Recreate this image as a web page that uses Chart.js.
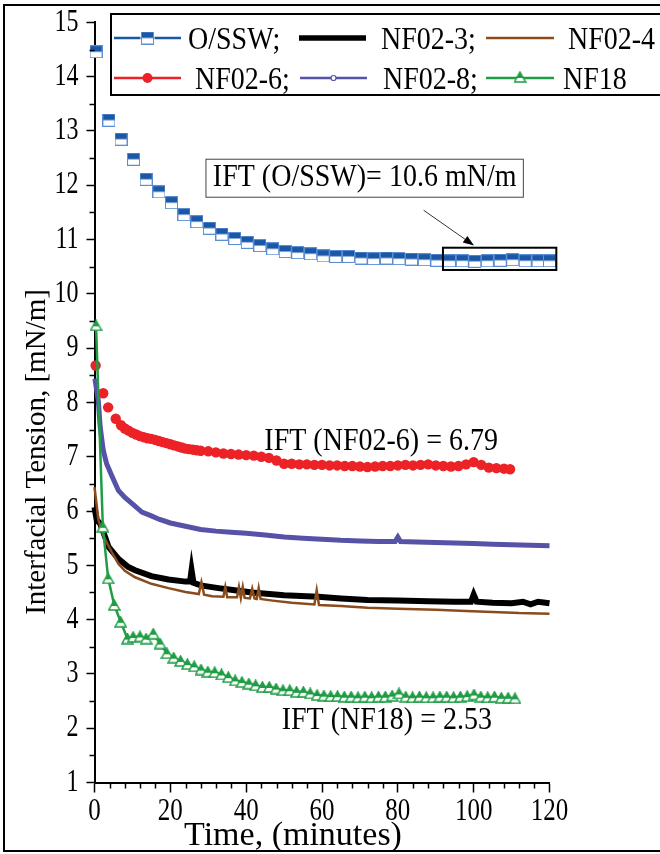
<!DOCTYPE html>
<html>
<head>
<meta charset="utf-8">
<script src="https://cdn.jsdelivr.net/npm/chart.js@4.4.0/dist/chart.umd.min.js"></script>
<style>
  html, body { margin: 0; padding: 0; background: #fff; }
</style>
</head>
<body>
<canvas id="iftChart" width="660" height="854"></canvas>
<script>
// Axis ticks
const xTickValues = [0, 20, 40, 60, 80, 100, 120];
const yTickValues = [1, 2, 3, 4, 5, 6, 7, 8, 9, 10, 11, 12, 13, 14, 15];

// Series names (legend order)
const seriesNames = ['O/SSW', 'NF02-3', 'NF02-4', 'NF02-6', 'NF02-8', 'NF18'];

// O/SSW
const osswTime = [0.4, 3.8, 7.0, 10.3, 13.6, 17.0, 20.3, 23.6, 27.0, 30.3, 33.6, 37.0, 40.3, 43.6, 47.0, 50.3, 53.6, 57.0, 60.3,
    63.6, 67.0, 70.3, 73.6, 77.0, 80.3, 83.6, 87.0, 90.3, 93.6, 97.0, 100.3, 103.6, 107.0, 110.3, 113.6, 117.0, 120.0];
const osswIFT = [14.46, 13.20, 12.85, 12.48, 12.11, 11.88, 11.68, 11.46, 11.33, 11.21, 11.10, 11.02, 10.95, 10.89, 10.83, 10.78,
    10.76, 10.74, 10.70, 10.69, 10.69, 10.66, 10.65, 10.66, 10.65, 10.64, 10.63, 10.62, 10.61, 10.61, 10.60, 10.61, 10.62,
    10.63, 10.61, 10.61, 10.61];

// NF02-3
const nf023Time = [0, 0.6, 1.5, 2.8, 3.7, 6.3, 8.9, 10.7, 15, 19.5, 24, 25.2, 25.6, 26.1, 28, 32.7, 36, 41.5, 50, 59, 65, 72,
    80, 88, 95, 99.3, 100, 100.8, 105, 110, 113, 115, 117, 120];
const nf023IFT = [6.07, 5.83, 5.77, 5.52, 5.34, 5.12, 4.97, 4.91, 4.80, 4.74, 4.70, 4.70, 4.91, 4.68, 4.63, 4.58, 4.55, 4.50,
    4.45, 4.42, 4.39, 4.36, 4.35, 4.34, 4.33, 4.33, 4.46, 4.33, 4.31, 4.30, 4.33, 4.28, 4.33, 4.30];

// NF02-4
const nf024Time = [0, 0.5, 1, 2, 3, 4.5, 6.3, 8, 10.7, 15, 19.5, 24, 27.5, 28.2, 28.9, 31, 34, 34.5, 35, 37.6, 38.1, 38.6,
    39.1, 39.6, 41, 41.6, 42.2, 42.8, 43.3, 43.8, 47, 52, 58, 58.6, 59.2, 65, 72, 80, 90, 98, 105, 112, 120];
const nf024IFT = [6.44, 6.15, 5.85, 5.60, 5.45, 5.25, 5.03, 4.90, 4.78, 4.66, 4.58, 4.51, 4.47, 4.69, 4.46, 4.43, 4.42, 4.60,
    4.41, 4.41, 4.60, 4.40, 4.60, 4.40, 4.39, 4.57, 4.39, 4.38, 4.58, 4.38, 4.35, 4.31, 4.28, 4.54, 4.27, 4.25, 4.22, 4.20,
    4.18, 4.16, 4.14, 4.12, 4.11];

// NF02-6
const nf026Time = [0.3, 2.3, 3.6, 5.6, 7, 8, 9, 10, 11, 12, 13, 14, 15, 16, 17, 18, 19, 20, 21, 22, 23, 24, 25, 26, 27, 28,
    30, 32, 34, 36, 38, 40, 42, 44, 46, 48, 50, 52, 54, 56, 58, 60, 62, 64, 66, 68, 70, 72, 74, 76, 78, 80, 82, 84, 86, 88,
    90, 92, 94, 96, 98, 100, 102, 104, 106, 108, 109.6];
const nf026IFT = [8.68, 8.17, 7.91, 7.70, 7.58, 7.52, 7.48, 7.44, 7.41, 7.38, 7.36, 7.34, 7.33, 7.31, 7.29, 7.27, 7.25, 7.23,
    7.21, 7.19, 7.17, 7.15, 7.14, 7.13, 7.12, 7.11, 7.10, 7.08, 7.06, 7.05, 7.04, 7.03, 7.02, 7.00, 6.98, 6.93, 6.87, 6.87,
    6.86, 6.86, 6.85, 6.85, 6.84, 6.84, 6.83, 6.83, 6.82, 6.81, 6.82, 6.83, 6.83, 6.84, 6.85, 6.84, 6.85, 6.86, 6.84, 6.83,
    6.82, 6.83, 6.86, 6.90, 6.85, 6.80, 6.79, 6.78, 6.77];

// NF02-8
const nf028Time = [0.1, 1, 1.5, 2.3, 3.2, 4.5, 6.3, 8, 10, 12.5, 15, 17, 20, 24, 28, 32, 36, 40, 45, 50, 55, 60, 65, 70, 75,
    79.3, 80, 80.7, 85, 90, 95, 100, 105, 110, 115, 120];
const nf028IFT = [8.44, 8.04, 7.55, 7.12, 6.87, 6.66, 6.38, 6.25, 6.13, 5.98, 5.91, 5.85, 5.78, 5.72, 5.66, 5.63, 5.61, 5.59,
    5.56, 5.52, 5.50, 5.48, 5.46, 5.45, 5.44, 5.44, 5.52, 5.44, 5.43, 5.42, 5.41, 5.40, 5.39, 5.38, 5.37, 5.36];

// NF18
const nf18Time = [0.4, 2.2, 3.6, 5.2, 6.9, 8.7, 10.2, 12.0, 13.6, 15.5, 17.3, 19.1, 20.9, 22.7, 24.5, 26.3, 28.1, 29.9, 31.7,
    33.5, 35.3, 37.1, 38.9, 40.7, 42.5, 44.3, 46.1, 47.9, 49.7, 51.5, 53.3, 55.1, 56.9, 58.7, 60.5, 62.3, 64.1, 65.9, 67.7,
    69.5, 71.3, 73.1, 74.9, 76.7, 78.5, 80.3, 82.1, 83.9, 85.7, 87.5, 89.3, 91.1, 92.9, 94.7, 96.5, 98.3, 100.1, 101.9,
    103.7, 105.5, 107.3, 109.1, 110.9];
const nf18IFT = [9.42, 5.71, 4.76, 4.27, 3.96, 3.65, 3.68, 3.69, 3.65, 3.74, 3.56, 3.38, 3.30, 3.24, 3.18, 3.14, 3.08, 3.04,
    3.03, 2.99, 2.94, 2.88, 2.85, 2.82, 2.79, 2.76, 2.76, 2.73, 2.70, 2.70, 2.67, 2.67, 2.64, 2.61, 2.60, 2.59, 2.59, 2.58,
    2.58, 2.57, 2.58, 2.57, 2.58, 2.58, 2.60, 2.64, 2.58, 2.57, 2.58, 2.57, 2.57, 2.58, 2.58, 2.57, 2.58, 2.59, 2.62, 2.58,
    2.57, 2.58, 2.56, 2.56, 2.55];

const serif = "'Liberation Serif', 'Times New Roman', serif";
const blue = '#1b57a7';
const red = '#ec2227';
const purple = '#5652a8';
const brown = '#8a4b1d';
const green = '#1f9d45';

// Half-filled markers, as in the original plot
function makeSquare() {
    const c = document.createElement('canvas');
    c.width = 13; c.height = 13;
    const g = c.getContext('2d');
    g.fillStyle = '#fff';
    g.fillRect(0, 0, 13, 13);
    g.fillStyle = blue;
    g.fillRect(0, 0, 13, 6.5);
    g.strokeStyle = '#5b8ed3';
    g.lineWidth = 1;
    g.strokeRect(0.5, 0.5, 12, 12);
    return c;
}

function makeTriangle() {
    const c = document.createElement('canvas');
    c.width = 13; c.height = 12;
    const g = c.getContext('2d');
    g.beginPath();
    g.moveTo(6.5, 1); g.lineTo(12, 11); g.lineTo(1, 11); g.closePath();
    g.fillStyle = '#fff';
    g.fill();
    g.save();
    g.clip();
    g.fillStyle = green;
    g.fillRect(0, 0, 13, 7);
    g.restore();
    g.strokeStyle = green;
    g.lineWidth = 1.5;
    g.stroke();
    return c;
}

const squareMark = makeSquare();
const triangleMark = makeTriangle();

function points(times, values) {
    return times.map((t, i) => ({ x: t, y: values[i] }));
}

// Draw text stretched vertically (the figure's fonts are tall)
function tallText(ctx, text, x, y, sy) {
    ctx.save();
    ctx.translate(x, y);
    ctx.scale(1, sy);
    ctx.fillText(text, 0, 0);
    ctx.restore();
}

// Tick labels come out taller than normal type in the reference
const tallTicks = {
    id: 'tallTicks',
    beforeDraw(chart) {
        const ctx = chart.ctx;
        const fill = ctx.fillText;
        ctx._plainFill = fill;
        ctx.fillText = function (t, x, y, w) {
            const m = this.getTransform();
            const p = m.transformPoint(new DOMPoint(x, y));
            this.setTransform(new DOMMatrix().translate(p.x, p.y).scale(1, 1.3).translate(-p.x, -p.y).multiply(m));
            if (w === undefined) fill.call(this, t, x, y); else fill.call(this, t, x, y, w);
            this.setTransform(m);
        };
    },
    beforeDatasetsDraw(chart) {
        if (chart.ctx._plainFill) {
            chart.ctx.fillText = chart.ctx._plainFill;
            delete chart.ctx._plainFill;
        }
    }
};

// Legend, annotations, axis titles, minor ticks, frame
const figureExtras = {
    id: 'figureExtras',
    afterDraw(chart) {
        const ctx = chart.ctx;
        const xs = chart.scales.x;
        const ys = chart.scales.y;
        const area = chart.chartArea;
        ctx.save();

        // minor ticks
        ctx.strokeStyle = '#000';
        ctx.lineWidth = 1.5;
        ctx.beginPath();
        for (let t = 4; t < 120; t += 4) {
            if (t % 20 === 0) continue;
            const px = Math.round(xs.getPixelForValue(t)) + 0.5;
            ctx.moveTo(px, area.bottom);
            ctx.lineTo(px, area.bottom + 6);
        }
        for (let v = 1.5; v < 15; v += 1) {
            const py = Math.round(ys.getPixelForValue(v)) + 0.5;
            ctx.moveTo(area.left, py);
            ctx.lineTo(area.left - 5, py);
        }
        ctx.stroke();

        // axis titles
        ctx.fillStyle = '#000';
        ctx.textAlign = 'center';
        ctx.textBaseline = 'middle';
        ctx.font = '34px ' + serif;
        ctx.fillText('Time, (minutes)', 293, 836);
        ctx.save();
        ctx.translate(37, 452);
        ctx.rotate(-Math.PI / 2);
        ctx.font = '29px ' + serif;
        ctx.fillText('Interfacial Tension, [mN/m]', 0, 0);
        ctx.restore();

        // annotation: O/SSW box, arrow and highlight rectangle
        const bx0 = xs.getPixelForValue(29.4), bx1 = xs.getPixelForValue(113.1);
        const by0 = ys.getPixelForValue(12.48), by1 = ys.getPixelForValue(11.78);
        ctx.fillStyle = '#fff';
        ctx.fillRect(bx0, by0, bx1 - bx0, by1 - by0);
        ctx.strokeStyle = '#444';
        ctx.lineWidth = 1;
        ctx.strokeRect(bx0, by0, bx1 - bx0, by1 - by0);
        ctx.fillStyle = '#000';
        ctx.font = '28px ' + serif;
        tallText(ctx, 'IFT (O/SSW)= 10.6 mN/m', (bx0 + bx1) / 2, (by0 + by1) / 2, 1.1);

        const ax0 = xs.getPixelForValue(86.8), ay0 = ys.getPixelForValue(11.54);
        const ax1 = xs.getPixelForValue(100.1), ay1 = ys.getPixelForValue(10.89);
        const ang = Math.atan2(ay1 - ay0, ax1 - ax0);
        ctx.strokeStyle = '#333';
        ctx.beginPath();
        ctx.moveTo(ax0, ay0);
        ctx.lineTo(ax1 - 9 * Math.cos(ang), ay1 - 9 * Math.sin(ang));
        ctx.stroke();
        ctx.fillStyle = '#000';
        ctx.beginPath();
        ctx.moveTo(ax1, ay1);
        ctx.lineTo(ax1 - 11 * Math.cos(ang) + 4 * Math.sin(ang), ay1 - 11 * Math.sin(ang) - 4 * Math.cos(ang));
        ctx.lineTo(ax1 - 11 * Math.cos(ang) - 4 * Math.sin(ang), ay1 - 11 * Math.sin(ang) + 4 * Math.cos(ang));
        ctx.closePath();
        ctx.fill();

        const rx0 = xs.getPixelForValue(91.9), rx1 = xs.getPixelForValue(121.8);
        const ry0 = ys.getPixelForValue(10.85), ry1 = ys.getPixelForValue(10.44);
        ctx.strokeStyle = '#000';
        ctx.lineWidth = 2;
        ctx.strokeRect(rx0, ry0, rx1 - rx0, ry1 - ry0);

        // value labels
        tallText(ctx, 'IFT (NF02-6) = 6.79', xs.getPixelForValue(75.6), ys.getPixelForValue(7.27), 1.1);
        tallText(ctx, 'IFT (NF18) = 2.53', xs.getPixelForValue(77.1), ys.getPixelForValue(2.13), 1.1);

        // legend
        ctx.fillStyle = '#fff';
        ctx.fillRect(111, 14, 560, 81);
        ctx.strokeStyle = '#000';
        ctx.lineWidth = 2;
        ctx.strokeRect(111, 14, 560, 81);

        const legendItems = [
            { name: seriesNames[0] + ';', color: blue, width: 2.5, x0: 114, x1: 181, y: 38, tx: 188, mark: 'square' },
            { name: seriesNames[1] + ';', color: '#000', width: 5.5, x0: 299, x1: 366, y: 38, tx: 381 },
            { name: seriesNames[2], color: brown, width: 2.5, x0: 486, x1: 554, y: 38, tx: 568 },
            { name: seriesNames[3] + ';', color: red, width: 2.5, x0: 114, x1: 181, y: 78, tx: 195, mark: 'dot' },
            { name: seriesNames[4] + ';', color: purple, width: 2.5, x0: 300, x1: 367, y: 78, tx: 383, mark: 'ring' },
            { name: seriesNames[5], color: green, width: 2.5, x0: 486, x1: 554, y: 78, tx: 563, mark: 'triangle' }
        ];
        ctx.font = '28px ' + serif;
        ctx.textAlign = 'left';
        ctx.textBaseline = 'alphabetic';
        legendItems.forEach(item => {
            ctx.strokeStyle = item.color;
            ctx.lineWidth = item.width;
            ctx.beginPath();
            ctx.moveTo(item.x0, item.y);
            ctx.lineTo(item.x1, item.y);
            ctx.stroke();
            const mx = (item.x0 + item.x1) / 2;
            if (item.mark === 'square') {
                ctx.fillStyle = '#fff';
                ctx.fillRect(mx - 7, item.y - 7, 14, 14);
                ctx.drawImage(squareMark, mx - 6.5, item.y - 6.5);
            } else if (item.mark === 'dot') {
                ctx.fillStyle = red;
                ctx.beginPath();
                ctx.arc(mx, item.y, 5, 0, Math.PI * 2);
                ctx.fill();
            } else if (item.mark === 'ring') {
                ctx.fillStyle = '#fff';
                ctx.lineWidth = 1.2;
                ctx.beginPath();
                ctx.arc(mx, item.y, 2.5, 0, Math.PI * 2);
                ctx.fill();
                ctx.stroke();
            } else if (item.mark === 'triangle') {
                ctx.drawImage(triangleMark, mx - 6.5, item.y - 7);
            }
            ctx.fillStyle = '#000';
            tallText(ctx, item.name, item.tx, item.y + 11, 1.15);
        });

        // outer frame
        ctx.strokeStyle = '#000';
        ctx.lineWidth = 2;
        ctx.beginPath();
        ctx.moveTo(661, 5);
        ctx.lineTo(4, 5);
        ctx.lineTo(4, 851);
        ctx.lineTo(661, 851);
        ctx.stroke();

        ctx.restore();
    }
};

const iftChart = new Chart(document.getElementById('iftChart'), {
    type: 'line',
    data: {
        datasets: [
            {
                label: seriesNames[5],
                data: points(nf18Time, nf18IFT),
                borderColor: green,
                borderWidth: 2.5,
                pointStyle: triangleMark,
                pointRadius: 6,
                order: 0
            },
            {
                // markers only in the plot; the legend still shows the line
                label: seriesNames[0],
                data: points(osswTime, osswIFT),
                borderColor: blue,
                showLine: false,
                pointStyle: squareMark,
                pointRadius: 6,
                order: 1
            },
            {
                label: seriesNames[2],
                data: points(nf024Time, nf024IFT),
                borderColor: brown,
                borderWidth: 2.5,
                pointRadius: 0,
                order: 2
            },
            {
                label: seriesNames[1],
                data: points(nf023Time, nf023IFT),
                borderColor: '#000',
                borderWidth: 6,
                pointRadius: 0,
                order: 3
            },
            {
                label: seriesNames[3],
                data: points(nf026Time, nf026IFT),
                borderColor: red,
                showLine: false,
                pointStyle: 'circle',
                pointRadius: 5.2,
                pointBorderWidth: 0,
                pointBackgroundColor: red,
                order: 4
            },
            {
                label: seriesNames[4],
                data: points(nf028Time, nf028IFT),
                borderColor: purple,
                borderWidth: 5,
                pointRadius: 0,
                order: 5
            }
        ]
    },
    options: {
        responsive: false,
        animation: false,
        devicePixelRatio: 1,
        clip: false,
        layout: {
            padding: { top: 21.5, right: 110.5, bottom: 0, left: 0 }
        },
        plugins: {
            legend: { display: false },
            tooltip: { enabled: false }
        },
        elements: {
            line: { tension: 0 }
        },
        scales: {
            x: {
                type: 'linear',
                min: 0,
                max: 120,
                afterBuildTicks: scale => { scale.ticks = xTickValues.map(v => ({ value: v })); },
                afterFit: scale => { scale.height = 71.5; },
                ticks: {
                    color: '#000',
                    font: { family: serif, size: 25 },
                    padding: 4,
                    maxRotation: 0
                },
                grid: { drawOnChartArea: false, tickLength: 10, color: '#000', tickWidth: 1.5 },
                border: { color: '#000', width: 2 }
            },
            y: {
                min: 1,
                max: 15,
                afterBuildTicks: scale => { scale.ticks = yTickValues.map(v => ({ value: v })); },
                afterFit: scale => { scale.width = 94.5; },
                ticks: {
                    color: '#000',
                    font: { family: serif, size: 24 },
                    padding: 8
                },
                grid: { drawOnChartArea: false, tickLength: 8, color: '#000', tickWidth: 1.5 },
                border: { color: '#000', width: 2 }
            }
        }
    },
    plugins: [tallTicks, figureExtras]
});
</script>
</body>
</html>
